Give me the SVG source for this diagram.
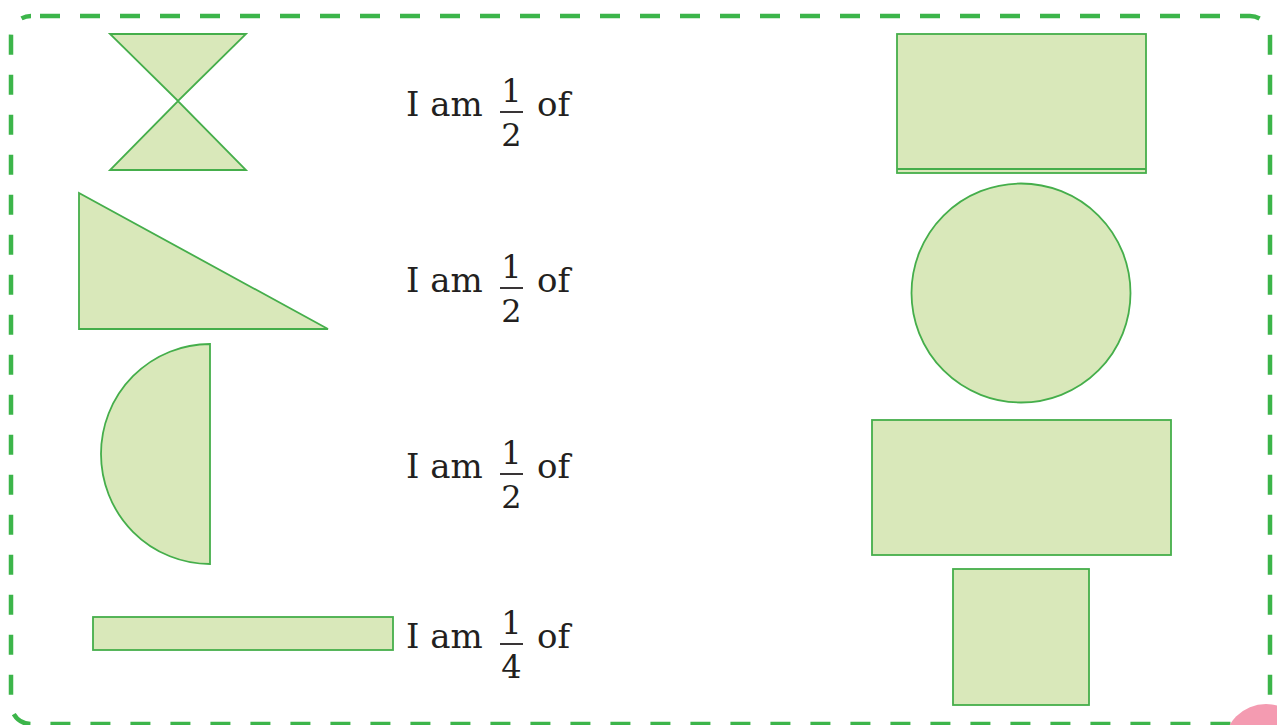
<svg xmlns="http://www.w3.org/2000/svg" width="1277" height="725" viewBox="0 0 1277 725">
<style>
.shape{fill:#d9e8ba;stroke:#45ae4b;stroke-width:1.8}
.t{font-family:"DejaVu Serif","Liberation Serif",serif;font-size:34px;fill:#231f20}
.f{font-family:"DejaVu Serif","Liberation Serif",serif;font-size:32px;fill:#231f20;text-anchor:middle}
.bar{stroke:#231f20;stroke-width:1.8}
</style>
<rect width="1277" height="725" fill="#ffffff"/>
<g id="border">
<rect x="11" y="16" width="1259" height="708" rx="20" ry="20" fill="none" stroke="#3cb54a" stroke-width="4.5" stroke-dasharray="20 20" stroke-dashoffset="-9"/>
</g>
<g id="pink">
<circle cx="1266" cy="746" r="42" fill="#f49bb1"/>
</g>
<g id="bowtie">
<path class="shape" d="M110,34 L246,34 L178,101 Z M110,170 L246,170 L178,101 Z"/>
</g>
<g id="triangle">
<path class="shape" d="M79,193 L79,329 L328,329 Z"/>
</g>
<g id="semicircle">
<path class="shape" d="M210,344 A109,110 0 0 0 210,564 Z"/>
</g>
<g id="strip">
<rect class="shape" x="93" y="617" width="300" height="33"/>
</g>
<g id="rect-top">
<rect class="shape" x="897" y="34" width="249" height="139"/>
<line x1="897" y1="169" x2="1146" y2="169" stroke="#45ae4b" stroke-width="1.8"/>
</g>
<g id="circle">
<circle class="shape" cx="1021" cy="293" r="109.5"/>
</g>
<g id="rect-wide">
<rect class="shape" x="872" y="420" width="299" height="135"/>
</g>
<g id="square">
<rect class="shape" x="953" y="569" width="136" height="136"/>
</g>
<g id="label1">
<text class="t" x="406" y="116">I am</text>
<text class="f" x="511.5" y="102">1</text>
<line class="bar" x1="500" y1="112" x2="523" y2="112"/>
<text class="f" x="511.5" y="146">2</text>
<text class="t" x="537" y="116">of</text>
</g>
<g id="label2" transform="translate(0,176)">
<text class="t" x="406" y="116">I am</text>
<text class="f" x="511.5" y="102">1</text>
<line class="bar" x1="500" y1="112" x2="523" y2="112"/>
<text class="f" x="511.5" y="146">2</text>
<text class="t" x="537" y="116">of</text>
</g>
<g id="label3" transform="translate(0,362)">
<text class="t" x="406" y="116">I am</text>
<text class="f" x="511.5" y="102">1</text>
<line class="bar" x1="500" y1="112" x2="523" y2="112"/>
<text class="f" x="511.5" y="146">2</text>
<text class="t" x="537" y="116">of</text>
</g>
<g id="label4" transform="translate(0,532)">
<text class="t" x="406" y="116">I am</text>
<text class="f" x="511.5" y="102">1</text>
<line class="bar" x1="500" y1="112" x2="523" y2="112"/>
<text class="f" x="511.5" y="146">4</text>
<text class="t" x="537" y="116">of</text>
</g>
</svg>
